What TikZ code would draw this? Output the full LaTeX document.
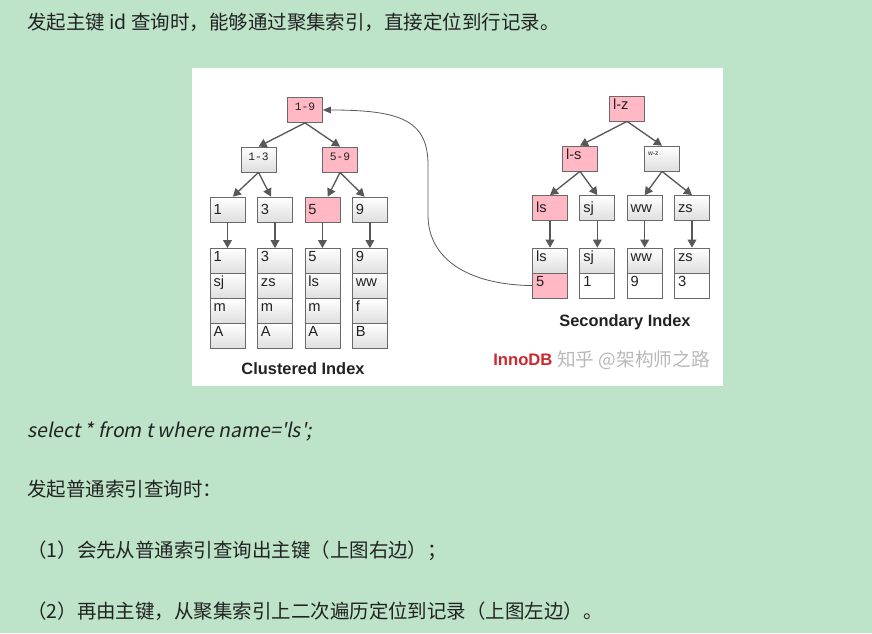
\documentclass[tikz,border=0pt]{standalone}
\usepackage{fontspec}
\setmainfont{Liberation Sans}
\newfontfamily\cjk{Noto Sans CJK SC}
\newfontfamily\cjkit[FakeSlant=0.2]{Noto Sans CJK SC}
\newfontfamily\tagfont{Liberation Mono}
\usetikzlibrary{arrows.meta}
\definecolor{pagegreen}{RGB}{189,227,201}
\definecolor{hotpink}{RGB}{255,184,196}
\definecolor{cellgray}{RGB}{222,222,222}
\definecolor{edgegray}{RGB}{105,105,105}
\definecolor{linkgray}{RGB}{88,88,88}
\definecolor{inkblack}{RGB}{34,34,34}
\definecolor{innored}{RGB}{204,40,45}
\definecolor{markgray}{RGB}{185,185,185}
\begin{document}
\begin{tikzpicture}[x=0.75pt, y=-0.75pt, node distance=18.75pt,
  cell/.style={draw=edgegray, line width=0.6pt, inner xsep=2.6pt, inner ysep=1.4pt,
    text width=21pt, align=left, text height=8.4pt, text depth=7.5pt,
    font=\fontsize{11}{13}\selectfont, text=inkblack},
  gcell/.style={cell, top color=white, bottom color=cellgray},
  hot/.style={cell, fill=hotpink},
  wcell/.style={cell, fill=white},
  mid/.style={text height=11.4pt, text depth=4.5pt},
  tag/.style={font=\tagfont\fontsize{8.5}{9}\selectfont, align=center},
  tiny/.style={font=\fontsize{5}{6}\selectfont, text height=5.4pt, text depth=10.5pt},
  link/.style={draw=linkgray, line width=1pt, -{Triangle[length=6pt,width=6.5pt]}},
  back/.style={draw=linkgray, line width=0.6pt, -{Triangle[length=6pt,width=5pt]}},
  title/.style={font=\bfseries\fontsize{12.3}{14}\selectfont, text=inkblack},
  para/.style={font=\cjk\fontsize{14.6}{17}\selectfont, anchor=west, inner sep=0pt, text=inkblack}]
  \useasboundingbox (0,0) rectangle (872,633);
  \fill[pagegreen] (0,0) rectangle (872,633);
  \fill[white] (192,68) rectangle (723,386);
  % text round the picture
  \node[para] (intro) at (27,22) {发起主键 id 查询时，能够通过聚集索引，直接定位到行记录。};
  \node[para, font=\cjkit\fontsize{14.6}{17}\selectfont] (sql) at (27,431)
    {select * from t where name=\textquotesingle ls\textquotesingle;};
  \node[para] (normal) at (27,489) {发起普通索引查询时：};
  \node[para] (step1) at (27,551) {（1）会先从普通索引查询出主键（上图右边）；};
  \node[para] (step2) at (27,611) {（2）再由主键，从聚集索引上二次遍历定位到记录（上图左边）。};
  % clustered index
  \node[hot, tag]   (r19) at (305,110) {1-9};
  \node[gcell, tag] (n13) at (258.5,159.5) {1-3};
  \node[hot, tag]   (n59) at (340,159.5) {5-9};
  \node[gcell, mid] (k1) at (227.5,209.5) {1};
  \node[gcell, mid, right of=k1, node distance=35.6pt] (k3) {3};
  \node[hot, mid, right of=k3, node distance=35.6pt]   (k5) {5};
  \node[gcell, mid, right of=k5, node distance=35.6pt] (k9) {9};
  \node[gcell, below of=k1, node distance=38.6pt] (id1) {1};
  \node[gcell, below of=id1]   (name1) {sj};
  \node[gcell, below of=name1] (sex1) {m};
  \node[gcell, below of=sex1]  (cls1) {A};
  \node[gcell, below of=k3, node distance=38.6pt] (id3) {3};
  \node[gcell, below of=id3]   (name3) {zs};
  \node[gcell, below of=name3] (sex3) {m};
  \node[gcell, below of=sex3]  (cls3) {A};
  \node[gcell, below of=k5, node distance=38.6pt] (id5) {5};
  \node[gcell, below of=id5]   (name5) {ls};
  \node[gcell, below of=name5] (sex5) {m};
  \node[gcell, below of=sex5]  (cls5) {A};
  \node[gcell, below of=k9, node distance=38.6pt] (id9) {9};
  \node[gcell, below of=id9]   (name9) {ww};
  \node[gcell, below of=name9] (sex9) {f};
  \node[gcell, below of=sex9]  (cls9) {B};
  \node[title] (clustered) at (303,369) {Clustered Index};
  \draw[link] (r19.south) -- (n13.north);
  \draw[link] (r19.south) -- (n59.north);
  \draw[link] (n13.south) -- ([xshift=4pt]k1.north);
  \draw[link] (n13.south) -- ([xshift=-3pt]k3.north);
  \draw[link] (n59.south) -- ([xshift=4pt]k5.north);
  \draw[link] (n59.south) -- ([xshift=-4pt]k9.north);
  \draw[link] (k1) -- (id1);
  \draw[link] (k3) -- (id3);
  \draw[link] (k5) -- (id5);
  \draw[link] (k9) -- (id9);
  % secondary index
  \node[hot]         (lz) at (627,108.5) {l-z};
  \node[hot]         (ls) at (580,158.5) {l-s};
  \node[gcell, tiny] (wz) at (662,158.5) {w-z};
  \node[hot, mid]    (ils) at (550,208) {ls};
  \node[gcell, mid, right of=ils, node distance=35.5pt] (isj) {sj};
  \node[gcell, mid, right of=isj, node distance=35.5pt] (iww) {ww};
  \node[gcell, mid, right of=iww, node distance=35.5pt] (izs) {zs};
  \node[gcell, below of=ils, node distance=39.4pt] (lls) {ls};
  \node[hot, below of=lls]   (pk5) {5};
  \node[gcell, below of=isj, node distance=39.4pt] (lsj) {sj};
  \node[wcell, below of=lsj] (pk1) {1};
  \node[gcell, below of=iww, node distance=39.4pt] (lww) {ww};
  \node[wcell, below of=lww] (pk9) {9};
  \node[gcell, below of=izs, node distance=39.4pt] (lzs) {zs};
  \node[wcell, below of=lzs] (pk3) {3};
  \node[title] (secondary) at (625,322) {Secondary Index};
  \draw[link] (lz.south) -- (ls.north);
  \draw[link] (lz.south) -- (wz.north);
  \draw[link] (ls.south) -- (ils.north);
  \draw[link] (ls.south) -- (isj.north);
  \draw[link] (wz.south) -- (iww.north);
  \draw[link] (wz.south) -- (izs.north);
  \draw[link] (ils) -- (lls);
  \draw[link] (isj) -- (lsj);
  \draw[link] (iww) -- (lww);
  \draw[link] (izs) -- (lzs);
  % back to the clustered root
  \draw[back] (pk5.west) .. controls (470,285) and (428,260) .. (428,215) -- (428,165)
    .. controls (428,120) and (400,110) .. (r19.east);
  % watermark
  \node[font=\bfseries\fontsize{12.5}{14}\selectfont, text=innored, anchor=west, inner sep=0pt]
    (innodb) at (493,360) {InnoDB};
  \node[font=\cjk\fontsize{14}{16}\selectfont, text=markgray, anchor=west, inner sep=0pt]
    (zhihu) at (557,360) {知乎 @架构师之路};
\end{tikzpicture}
\end{document}
